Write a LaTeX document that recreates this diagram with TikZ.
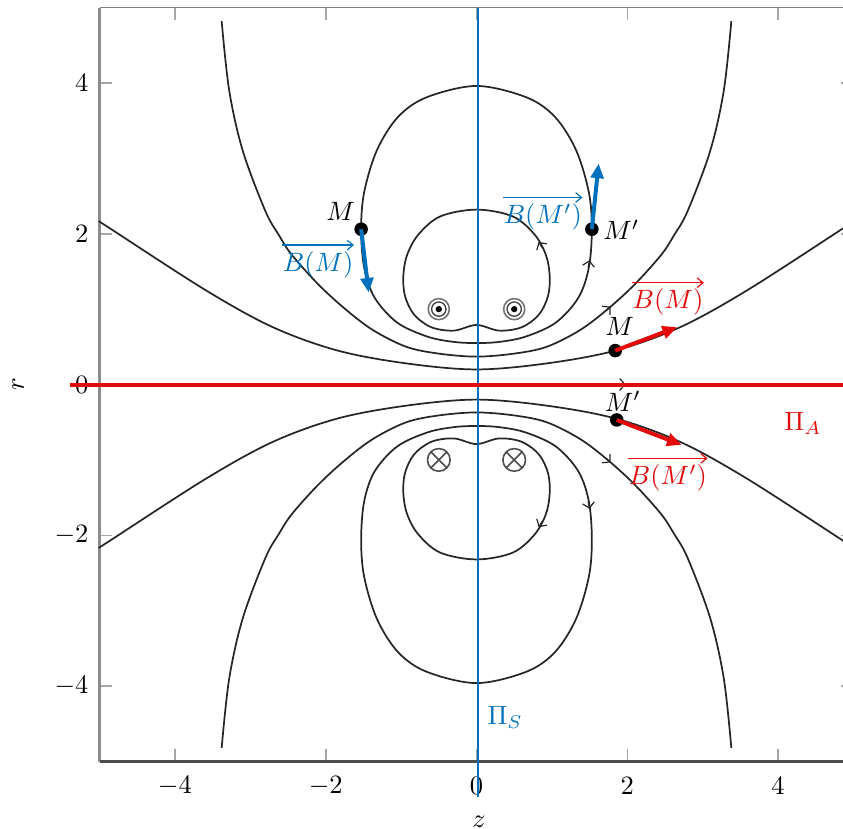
\documentclass[tikz,border=0pt]{standalone}
\usetikzlibrary{arrows.meta}
\definecolor{piblue}{RGB}{0,114,189}
\definecolor{pired}{RGB}{228,10,10}
\begin{document}
\begin{tikzpicture}[x=1cm,y=1cm,
  fline/.style={black!85, line width=0.65pt},
  fmark/.style={black!85, line width=0.45pt, -{Straight Barb[length=2pt,width=4.5pt]}},
  tickst/.style={black!35, line width=0.6pt},
  bvec/.style={line width=1.5pt, -{Triangle[length=5.5pt,width=4.8pt]}},
  dotpt/.style={circle, fill=black, inner sep=0pt, minimum size=0.18cm},
  lab/.style={font=\normalsize, inner sep=0pt},
  overarr/.style={line width=0.45pt, -{Straight Barb[length=2.2pt,width=3.6pt]}},
]
\useasboundingbox (-6.32,-5.895) rectangle (4.861,5.10);
\clip (-6.32,-5.895) rectangle (4.861,5.10);

% ---- axes box and ticks
\foreach \v/\n in {-4/a,-2/b,0/c,2/d,4/e} {
  \draw[tickst] (\v,-5) -- (\v,-4.83);
  \draw[tickst] (\v,5) -- (\v,4.83);
  \draw[tickst] (-5,\v) -- (-4.83,\v);
  \draw[tickst] (5,\v) -- (4.83,\v);
  \node[anchor=east, inner sep=0pt] (yl\n) at (-5.14,\v) {$\v$};
  \node[inner sep=0pt] (xl\n) at (\v,-5.32) {$\v$};
}
\draw[black!45, line width=0.8pt] (-5,-5) -- (-5,5);
\draw[black!50, line width=0.7pt] (-5,5) -- (5,5);
\draw[black!70, line width=0.8pt] (-5,-5) -- (5,-5);
\node (zlab) at (0.03,-5.80) {$z$};
\node[rotate=90] (rlab) at (-6.08,0) {$r$};

% ---- field lines (upper half, mirrored for the lower half)
\foreach \s in {1,-1} {
\begin{scope}[yscale=\s]
  % kidney around both loops
  \draw[fline] plot[smooth cycle, tension=0.55] coordinates {
    (0,2.32) (0.48,2.23) (0.77,1.99) (0.92,1.72) (0.97,1.45) (0.95,1.18)
    (0.83,0.93) (0.6,0.76) (0.3,0.715) (0,0.79) (-0.3,0.715) (-0.6,0.76)
    (-0.83,0.93) (-0.95,1.18) (-0.97,1.45) (-0.92,1.72) (-0.77,1.99) (-0.48,2.23)};
  % big closed oval
  \draw[fline] plot[smooth cycle, tension=0.55] coordinates {
    (0,3.96) (0.66,3.81) (1.04,3.55) (1.32,3.11) (1.49,2.55) (1.53,2.06)
    (1.49,1.55) (1.35,1.15) (1.05,0.82) (0.65,0.635) (0.3,0.565) (0,0.55)
    (-0.3,0.565) (-0.65,0.635) (-1.05,0.82) (-1.35,1.15) (-1.49,1.55)
    (-1.53,2.06) (-1.49,2.55) (-1.32,3.11) (-1.04,3.55) (-0.66,3.81)};
  % open line ending near the top
  \draw[fline] plot[smooth, tension=0.55] coordinates {
    (-3.38,4.82) (-3.28,3.9) (-3.1,3.1) (-2.8,2.3) (-2.62,1.98) (-2.45,1.72)
    (-2.1,1.33) (-1.74,1.0) (-1.37,0.72) (-0.93,0.5) (-0.5,0.41) (0,0.37)
    (0.5,0.41) (0.93,0.5) (1.37,0.72) (1.74,1.0) (2.1,1.33) (2.45,1.72)
    (2.62,1.98) (2.8,2.3) (3.1,3.1) (3.28,3.9) (3.38,4.82)};
  % outer open line reaching the box sides
  \draw[fline] plot[smooth, tension=0.55] coordinates {
    (-5.0,2.16) (-4.86,2.07) (-3.59,1.25) (-2.7,0.76) (-1.84,0.45) (-0.93,0.28)
    (0,0.2) (0.93,0.28) (1.84,0.45) (2.7,0.76) (3.59,1.25) (4.86,2.07) (5.0,2.16)};
  % direction marks
  \draw[fmark] (0.85,1.85) ++(302:0.05) -- ++(122:0.1);
  \draw[fmark] (1.49,1.6) ++(260:0.05) -- ++(80:0.1);
  \draw[fmark] (1.74,1.0) ++(222:0.05) -- ++(42:0.1);
\end{scope}
}
% symmetry axis line r = 0
\draw[fline] (-5,0) -- (5,0);
\draw[fmark] (1.88,0) -- (1.98,0);

% ---- current loops
\foreach \x/\n in {-0.5/l,0.5/r} {
  \draw[black!55, line width=0.6pt] (\x,1) circle (0.14);
  \draw[black!75, line width=0.5pt] (\x,1) circle (0.095);
  \fill[black] (\x,1) circle (0.042);
  \draw[black!70, line width=0.6pt] (\x,-1) circle (0.15);
  \draw[black!70, line width=0.6pt] (\x,-1) ++(45:0.15) -- ++(225:0.3);
  \draw[black!70, line width=0.6pt] (\x,-1) ++(135:0.15) -- ++(315:0.3);
}

% ---- symmetry / antisymmetry planes
\draw[piblue, line width=1.1pt] (0.02,5.0) -- (0.02,-5.47);
\draw[pired, line width=1.5pt] (-5.39,0) -- (4.9,0);
\node[lab, text=piblue, anchor=west] (pis) at (0.14,-4.42) {$\Pi_S$};
\node[lab, text=pired] (pia) at (4.33,-0.52) {$\Pi_A$};

% ---- points and field vectors
\node[dotpt] (Mb) at (-1.53,2.06) {};
\node[dotpt] (Mpb) at (1.53,2.06) {};
\node[dotpt] (Mr) at (1.84,0.45) {};
\node[dotpt] (Mpr) at (1.86,-0.47) {};
\coordinate (tMb) at (-1.43,1.22);
\coordinate (tMpb) at (1.62,2.93);
\coordinate (tMr) at (2.66,0.76);
\coordinate (tMpr) at (2.72,-0.80);
\draw[bvec, piblue] (Mb.center) -- (tMb);
\draw[bvec, piblue] (Mpb.center) -- (tMpb);
\draw[bvec, pired] (Mr.center) -- (tMr);
\draw[bvec, pired] (Mpr.center) -- (tMpr);

\node[lab] (lMb) at (-1.8,2.3) {$M$};
\node[lab] (lMpb) at (1.92,2.05) {$M'$};
\node[lab] (lMr) at (1.9,0.77) {$M$};
\node[lab] (lMpr) at (1.94,-0.22) {$M'$};

\node[lab, text=piblue] (lBMb) at (-2.10,1.59) {$B(M)$};
\node[lab, text=piblue] (lBMpb) at (0.88,2.22) {$B(M')$};
\node[lab, text=pired] (lBMr) at (2.54,1.09) {$B(M)$};
\node[lab, text=pired] (lBMpr) at (2.54,-1.24) {$B(M')$};
\foreach \l/\c in {lBMb/piblue, lBMpb/piblue, lBMr/pired, lBMpr/pired} {
  \draw[overarr, \c] ([yshift=2.2pt]\l.north west) -- ([yshift=2.2pt]\l.north east);
}
\end{tikzpicture}
\end{document}
